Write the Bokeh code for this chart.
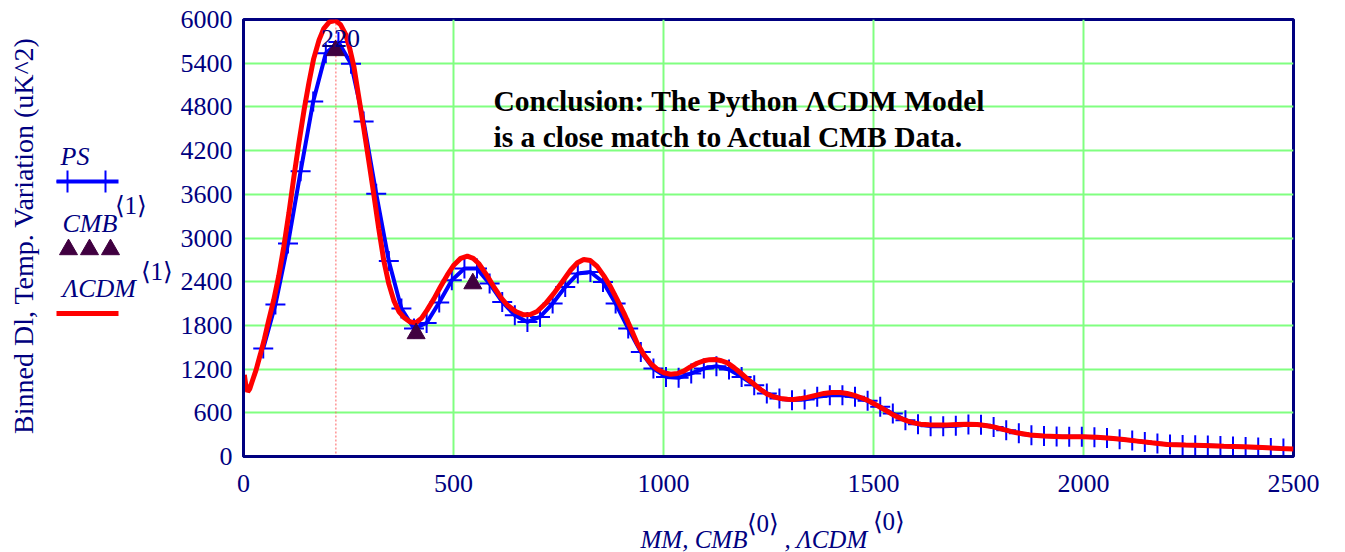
import math
from bokeh.plotting import figure
from bokeh.layouts import row, column
from bokeh.models import Range1d, FixedTicker, Span, Label
from bokeh.core.properties import value
from bokeh.embed import file_html
from bokeh.resources import INLINE

# ---------------- data ----------------
x_ticks = [0, 500, 1000, 1500, 2000, 2500]
y_ticks = [0, 600, 1200, 1800, 2400, 3000, 3600, 4200, 4800, 5400, 6000]

peak_ell = 220

ps_ell = [47, 76, 106, 136, 166, 196, 226, 256, 286, 316, 346, 376, 406, 436, 466, 496,
          526, 556, 586, 616, 646, 676, 706, 736, 766, 796, 826, 856, 886, 916, 946, 976,
          1006, 1036, 1066, 1096, 1126, 1156, 1186, 1216, 1246, 1276, 1306, 1336, 1366,
          1396, 1426, 1456, 1486, 1516, 1546, 1576, 1606, 1636, 1666, 1696, 1726, 1756,
          1786, 1816, 1846, 1876, 1906, 1936, 1966, 1996, 2026, 2056, 2086, 2116, 2146,
          2176, 2206, 2236, 2266, 2296, 2326, 2356, 2386, 2416, 2446, 2476]
ps_dl = [1483, 2086, 2923, 3915, 4875, 5538, 5690, 5392, 4601, 3609, 2685, 2031, 1757,
         1834, 2114, 2420, 2580, 2580, 2374, 2122, 1940, 1848, 1916, 2100, 2328, 2512,
         2534, 2396, 2100, 1757, 1436, 1208, 1093, 1080, 1140, 1208, 1240, 1195, 1093,
         979, 866, 797, 774, 783, 819, 842, 842, 819, 764, 682, 591, 499, 444, 417, 417,
         421, 440, 435, 405, 360, 320, 293, 280, 274, 271, 270, 265, 255, 238, 219, 199,
         180, 165, 158, 154, 150, 144, 138, 132, 125, 117, 110]

cmb_ell = [219, 411, 546]
cmb_dl = [5575, 1689, 2374]

lcdm_ell = [2, 5, 10, 15, 20, 30, 40, 50, 60, 72, 84, 96, 108, 120, 132, 144, 156, 167,
            180, 191, 205, 219, 231, 243, 253, 263, 274, 286, 298, 310, 322, 334, 346,
            358, 370, 382, 396, 410, 424, 437, 453, 469, 485, 501, 517, 533, 547, 560,
            578, 596, 612, 628, 648, 667, 683, 699, 719, 739, 759, 779, 795, 810, 826,
            842, 858, 874, 890, 906, 922, 937, 953, 969, 985, 1001, 1017, 1033, 1049,
            1064, 1080, 1096, 1110, 1124, 1138, 1152, 1168, 1183, 1199, 1215, 1231, 1246,
            1262, 1279, 1295, 1310, 1326, 1342, 1362, 1382, 1401, 1421, 1437, 1453, 1469,
            1485, 1501, 1517, 1533, 1548, 1564, 1580, 1596, 1612, 1632, 1652, 1675, 1699,
            1723, 1747, 1766, 1786, 1813, 1841, 1873, 1905, 1950, 2000, 2032, 2064, 2096,
            2128, 2163, 2199, 2243, 2286, 2334, 2382, 2426, 2469, 2500]
lcdm_dl = [1120, 1000, 890, 930, 1020, 1190, 1400, 1620, 1870, 2150, 2480, 2880, 3340,
           3840, 4310, 4750, 5140, 5460, 5720, 5875, 5970, 5985, 5930, 5800, 5600, 5350,
           4950, 4520, 4070, 3610, 3130, 2690, 2370, 2140, 1990, 1910, 1850, 1835, 1900,
           2010, 2160, 2330, 2490, 2630, 2720, 2750, 2720, 2650, 2500, 2330, 2190, 2080,
           1990, 1945, 1950, 1990, 2100, 2240, 2400, 2560, 2660, 2705, 2690, 2610, 2480,
           2330, 2150, 1965, 1760, 1560, 1400, 1280, 1200, 1150, 1130, 1140, 1175, 1230,
           1280, 1315, 1330, 1332, 1315, 1285, 1220, 1150, 1070, 995, 920, 860, 820, 797,
           785, 783, 795, 812, 840, 866, 878, 879, 865, 842, 810, 774, 725, 673, 620, 568,
           525, 490, 462, 444, 435, 431, 434, 440, 442, 438, 425, 407, 365, 325, 295, 280,
           272, 270, 264, 252, 232, 211, 188, 166, 157, 152, 142, 133, 122, 111, 104]

# ---------------- style ----------------
NAVY = "#000080"
BLUE = "#0000ff"
RED = "#ff0000"
PURPLE = "#400040"
GRID = "#80ff80"
SERIF = "Liberation Serif"

TOTAL_W, TOTAL_H = 1345, 552
LEFT_W = 173
MAIN_W = TOTAL_W - LEFT_W
TOP_H = 505                      # height of the row holding the plot
FRAME_L, FRAME_T, FRAME_W, FRAME_H = 243, 19, 1050, 437  # page pixels
BORDER_L = FRAME_L - LEFT_W
BORDER_R = MAIN_W - BORDER_L - FRAME_W
BORDER_B = TOP_H - FRAME_T - FRAME_H


def dx(px):
    return (px - FRAME_L) * 2500.0 / FRAME_W


def dy(py):
    return 6000.0 - (py - FRAME_T) * 6000.0 / FRAME_H


def base(py, size):
    # compensate the renderer's baseline offset so that py is the visible baseline
    return py - 0.36 * size


def blank(fig):
    fig.axis.visible = False
    fig.grid.visible = False
    fig.outline_line_color = None
    fig.background_fill_color = "white"
    fig.border_fill_color = "white"


# ---------------- main figure ----------------
p = figure(width=MAIN_W, height=TOP_H, x_range=Range1d(0, 2500), y_range=Range1d(0, 6000),
           min_border_left=BORDER_L, min_border_right=BORDER_R,
           min_border_top=FRAME_T, min_border_bottom=BORDER_B,
           output_backend="svg", toolbar_location=None)
p.background_fill_color = "white"
p.border_fill_color = "white"
p.outline_line_color = NAVY
p.outline_line_width = 3

for ax, ticks in ((p.xaxis, x_ticks), (p.yaxis, y_ticks)):
    ax.ticker = FixedTicker(ticks=ticks)
    ax.axis_line_color = NAVY
    ax.axis_line_width = 3
    ax.major_tick_line_color = None
    ax.minor_tick_line_color = None
    ax.major_label_text_font = SERIF
    ax.major_label_text_font_size = "26px"
    ax.major_label_text_color = NAVY
p.xaxis.major_label_standoff = 12
p.yaxis.major_label_standoff = 5

p.xgrid.ticker = FixedTicker(ticks=x_ticks)
p.ygrid.ticker = FixedTicker(ticks=y_ticks)
p.grid.grid_line_color = GRID
p.grid.grid_line_width = 2

p.add_layout(Span(location=peak_ell, dimension="height", line_color="#ff6060",
                  line_dash="2 2", line_width=1, level="underlay"))

p.line(ps_ell, ps_dl, line_color=BLUE, line_width=4)
p.scatter(ps_ell, ps_dl, marker="cross", size=20, line_color=BLUE, line_width=2)
p.line(lcdm_ell, lcdm_dl, line_color=RED, line_width=5)
p.scatter(cmb_ell, cmb_dl, marker="triangle", size=18, fill_color=PURPLE,
          line_color=PURPLE)

p.add_layout(Label(x=dx(340), y=dy(base(47, 26)), text=str(peak_ell), text_font=SERIF,
                   text_font_size="26px", text_color=NAVY, text_align="center",
                   text_baseline="alphabetic"))

p.add_layout(Label(x=dx(493), y=dy(base(111, 29.5)),
                   text="Conclusion: The Python \u039bCDM Model",
                   text_font=SERIF, text_font_size="29.5px", text_font_style="bold",
                   text_color="black", text_baseline="alphabetic"))
p.add_layout(Label(x=dx(493), y=dy(base(147, 29.5)),
                   text="is a close match to Actual CMB Data.",
                   text_font=SERIF, text_font_size="29.5px", text_font_style="bold",
                   text_color="black", text_baseline="alphabetic"))

# ---------------- left panel: axis title + legend ----------------
q = figure(width=LEFT_W, height=TOP_H, x_range=Range1d(0, LEFT_W),
           y_range=Range1d(FRAME_T + FRAME_H, FRAME_T),
           min_border_left=0, min_border_right=0, min_border_top=FRAME_T,
           min_border_bottom=BORDER_B, output_backend="svg", toolbar_location=None)
blank(q)

q.text(x=[33 - 0.36 * 28], y=[235], text=["Binned Dl, Temp. Variation (uK^2)"],
       angle=math.pi / 2, text_font=value(SERIF), text_font_size="28px",
       text_color=NAVY, text_align="center", text_baseline="alphabetic")

q.text(x=[60, 62, 62], y=[base(165, 26), base(232, 26), base(297, 26)],
       text=["PS", "CMB", "\u039bCDM"],
       text_font=value(SERIF), text_font_size="26px", text_font_style="italic",
       text_color=NAVY, text_baseline="alphabetic")
q.text(x=[114, 140], y=[base(214, 25), base(280, 25)], text=["\u27e81\u27e9", "\u27e81\u27e9"],
       text_font=value(SERIF), text_font_size="25px", text_color=NAVY,
       text_baseline="alphabetic")

q.line([56, 118], [181, 181], line_color=BLUE, line_width=4)
q.scatter([67, 105], [181, 181], marker="cross", size=22, line_color=BLUE, line_width=2)
q.scatter([68, 89, 110], [249, 249, 249], marker="triangle", size=18,
          fill_color=PURPLE, line_color=PURPLE)
q.line([56, 118], [313, 313], line_color=RED, line_width=5)

# ---------------- bottom strip: x-axis title with superscripts ----------------
r = figure(width=TOTAL_W, height=TOTAL_H - TOP_H, x_range=Range1d(FRAME_L, FRAME_L + FRAME_W),
           y_range=Range1d(TOTAL_H, TOP_H), min_border_left=FRAME_L,
           min_border_right=TOTAL_W - FRAME_L - FRAME_W, min_border_top=0,
           min_border_bottom=0, output_backend="svg", toolbar_location=None)
blank(r)
r.text(x=[640, 784], y=[base(548, 25), base(548, 25)], text=["MM, CMB", ", \u039bCDM"],
       text_font=value(SERIF), text_font_size="25px", text_font_style="italic",
       text_color=NAVY, text_baseline="alphabetic")
r.text(x=[746, 872], y=[base(532, 25), base(530, 25)], text=["\u27e80\u27e9", "\u27e80\u27e9"],
       text_font=value(SERIF), text_font_size="25px", text_color=NAVY,
       text_baseline="alphabetic")

layout = column(row(q, p), r)
open("out.html", "w").write(file_html(layout, INLINE))
